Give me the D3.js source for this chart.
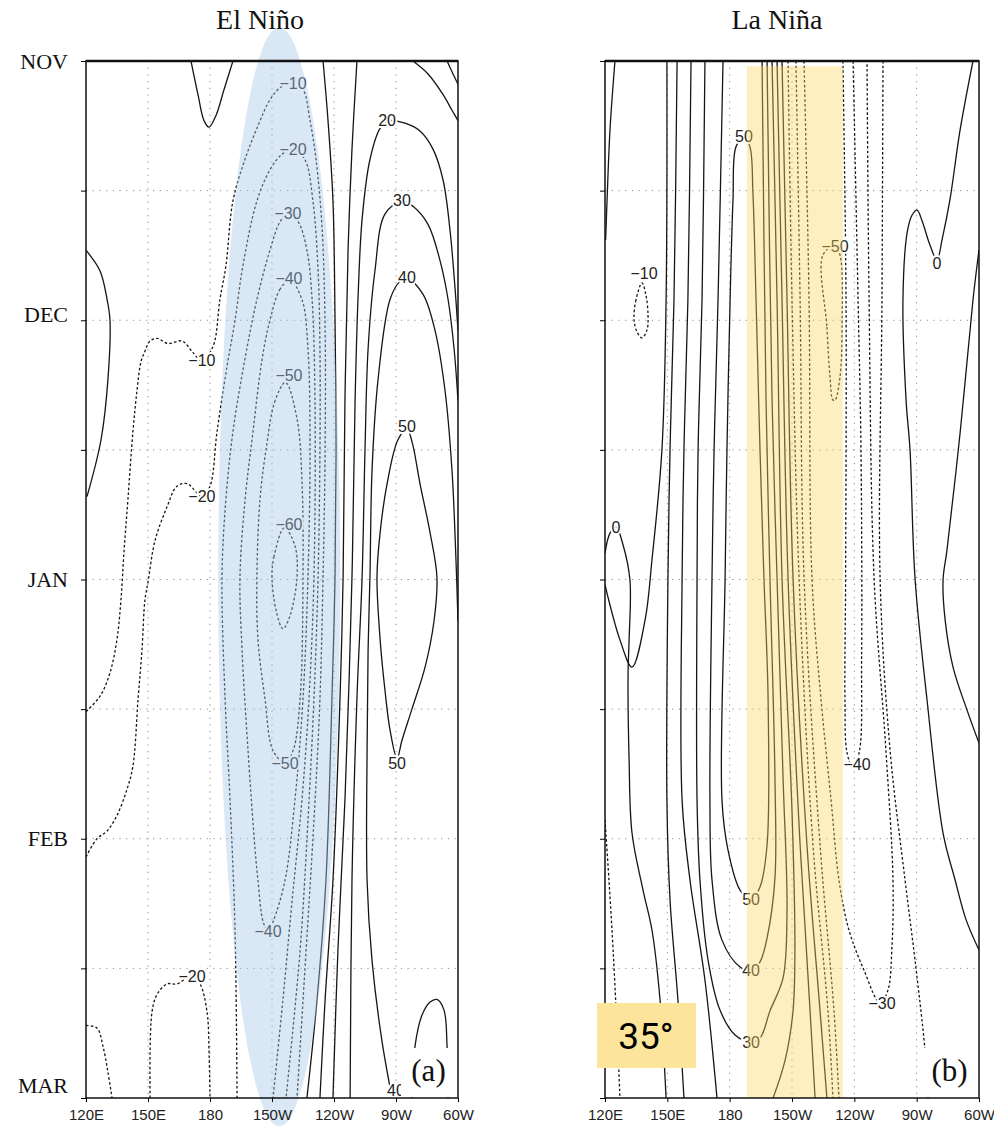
<!DOCTYPE html>
<html>
<head>
<meta charset="utf-8">
<script src="https://cdn.jsdelivr.net/npm/d3@7"></script>
<style>
body { margin: 0; background: #fff; }
</style>
</head>
<body>
<svg id="chart" width="994" height="1126"></svg>
<script>
// axis labels
var months = ["NOV", "DEC", "JAN", "FEB", "MAR"]
var halfMonths = [0, 0.5, 1, 1.5, 2, 2.5, 3, 3.5, 4]
var lonTicks = [120, 150, 180, 210, 240, 270, 300]
var lonNames = ["120E", "150E", "180", "150W", "120W", "90W", "60W"]

// contour lines: [longitude °E, months after 1 Nov]
var elNinoContours = [
  {level: 0, pts: [[170.8,0],[174.2,0.13],[177.1,0.23],[179.5,0.255],[182.9,0.21],[186.8,0.11],[191.1,0]]},
  {level: 0, pts: [[120,0.73],[126.8,0.81],[130.2,0.92],[131.6,1.0],[130.6,1.23],[127.3,1.46],[120.5,1.68]]},
  {level: -10, pts: [[120,2.51],[126.8,2.45],[131.6,2.36],[135,2.23],[136.9,2.08],[138.4,1.89],[140.3,1.69],[142.7,1.43],[144.7,1.27],[146.6,1.16],[148.5,1.12],[151,1.08],[154.4,1.07],[159.7,1.09],[166.5,1.08],[171.3,1.12],[176.1,1.157],[181.5,1.10],[184.8,0.92],[187.7,0.79],[191.1,0.54],[196.9,0.38],[203.2,0.25],[209,0.15],[214.4,0.10],[220.2,0.085],[225,0.11],[228.4,0.23],[231.3,0.38],[234.2,0.64],[235.7,1.03],[235.7,1.5],[234.7,1.99],[233.2,2.46],[230.3,2.93],[226.5,3.43],[222.1,4.0]]},
  {level: -20, pts: [[120,3.07],[125.3,3.0],[130.2,2.97],[135,2.91],[139.8,2.81],[142.7,2.72],[145.2,2.46],[147.1,2.27],[148.5,2.08],[150,2.01],[153.4,1.85],[159.2,1.72],[164,1.64],[168.9,1.63],[176.1,1.68],[180,1.64],[183.4,1.43],[188.2,1.18],[192.1,1.0],[195.9,0.79],[202.7,0.54],[209,0.42],[214.8,0.36],[220.2,0.34],[225.9,0.38],[229.8,0.54],[232.3,0.81],[233.2,1.11],[233.2,1.5],[232.3,1.99],[230.3,2.46],[227.4,2.93],[223.6,3.43],[216.8,4.0]]},
  {level: -30, pts: [[193.1,4.0],[192.1,3.35],[189.7,2.85],[187.3,2.46],[185.8,1.99],[187.7,1.69],[191.1,1.43],[196.9,1.15],[202.7,0.92],[209,0.73],[213.9,0.62],[217.7,0.59],[222.6,0.62],[226.9,0.73],[229.4,0.92],[230.8,1.31],[230.3,1.99],[227.9,2.46],[224.5,2.85],[219.7,3.24],[215.3,3.62],[210.5,4.0]]},
  {level: -40, closed: true, pts: [[218.7,0.845],[213.9,0.88],[209,1.0],[205.2,1.15],[200.8,1.43],[197,1.69],[194.5,1.99],[195.5,2.27],[198.4,2.66],[201.8,3.04],[203.2,3.16],[205.7,3.32],[208.1,3.356],[210.5,3.32],[216.3,3.16],[221.1,2.85],[225,2.46],[227.4,1.99],[228.4,1.5],[227.4,1.11],[224.5,0.92]]},
  {level: -50, closed: true, pts: [[216.5,1.24],[211.5,1.31],[207.1,1.5],[204.2,1.69],[202.7,1.99],[203.2,2.23],[206.6,2.46],[210.5,2.66],[216.3,2.708],[220.2,2.66],[223.6,2.46],[225,1.99],[224.5,1.62],[222.1,1.38]]},
  {level: -60, closed: true, pts: [[216,1.8],[211,1.91],[210,1.99],[212,2.12],[215.3,2.19],[218.7,2.14],[222.1,1.99],[221.1,1.87]]},
  {level: -20, pts: [[151,4.0],[151.9,3.67],[154.4,3.6],[159.2,3.56],[164,3.56],[171.3,3.53],[175.2,3.56],[178.6,3.67],[179.5,3.81],[180,4.0]]},
  {level: -30, pts: [[120,3.72],[125.3,3.73],[128.2,3.8],[130.6,3.9],[132.6,4.0]]},
  {level: 0, pts: [[234.7,0],[237.1,0.23],[239.5,0.54],[240.5,1.0],[241,1.5],[240.5,1.99],[239,2.46],[236.1,3.16],[231.8,3.62],[226.9,4.0]]},
  {level: 10, pts: [[251.1,0],[248.7,0.34],[246.8,0.73],[245.3,1.31],[244.4,1.99],[242.9,2.46],[239.5,3.16],[235.7,3.62],[233.2,4.0]]},
  {level: 20, pts: [[239.5,4.0],[241.9,3.43],[245.3,2.85],[248.7,1.99],[250.2,1.31],[251.6,0.92],[253.6,0.61],[257.4,0.38],[262.3,0.26],[266.5,0.23],[274.4,0.24],[281.6,0.27],[287.9,0.34],[292.8,0.46],[296.1,0.65],[298.6,0.88],[300,1.04]]},
  {level: 30, pts: [[247.8,4.0],[248.7,3.16],[251.1,2.46],[253.6,1.99],[255,1.5],[256.5,1.11],[259.8,0.81],[264.7,0.59],[272.9,0.54],[278.2,0.56],[285.5,0.63],[291.3,0.77],[295.2,0.92],[298.1,1.11],[300,1.31]]},
  {level: 40, pts: [[268.1,4.0],[263.2,3.78],[258.4,3.47],[256,3.16],[256,2.66],[256.5,2.27],[257.4,1.99],[258.4,1.58],[261.3,1.23],[267.1,0.92],[271.9,0.85],[275.3,0.837],[283.1,0.9],[288.9,1.04],[293.7,1.27],[297.1,1.58],[299,1.92],[300,2.16]]},
  {level: 50, closed: true, pts: [[275.3,1.42],[271,1.46],[265.7,1.63],[262.3,1.82],[260.8,1.99],[262.3,2.23],[264.7,2.43],[267.1,2.58],[270.5,2.69],[272.9,2.62],[277.7,2.5],[284,2.34],[288.4,2.16],[289.8,1.99],[286.5,1.82],[281.6,1.63],[277.8,1.47]]},
  {level: 50, pts: [[277.7,4.0],[279.2,3.8],[282.6,3.68],[286.5,3.63],[289.8,3.62],[293.2,3.66],[294.7,3.8],[295.2,4.0]]},
  {level: 10, pts: [[278.2,0],[285.5,0.05],[292.8,0.13],[297.1,0.19],[300,0.23]]},
  {level: 0, pts: [[294.7,0],[297.6,0.05],[300,0.09]]}
]
// [level, longitude, month]
var elNinoLabels = [
  [-10,220.2,0.085],[-20,220.2,0.34],[-30,217.7,0.59],[-40,218.2,0.84],[-50,218.2,1.215],[-60,218.2,1.786],
  [-10,176.1,1.157],[-20,176.1,1.68],[-50,216.3,2.708],[-40,208.1,3.356],[-20,171.3,3.53],
  [20,265.7,0.23],[30,272.9,0.54],[40,275.3,0.837],[50,275.3,1.408],[50,270.5,2.708],[40,270,3.97]
]

var laNinaContours = [
  {level: 0, pts: [[124.8,0],[122.4,0.266],[121,0.536],[120.3,0.69]]},
  {level: -10, closed: true, pts: [[137.8,0.856],[134.9,0.922],[134,0.999],[135.4,1.045],[137.8,1.068],[140.2,1.038],[140.7,0.98],[139.7,0.903]]},
  {level: 0, pts: [[120,1.898],[122.4,1.821],[125.3,1.797],[128.7,1.867],[132,2.002],[131.6,2.233],[131.1,2.361],[131.6,2.696],[133,2.978],[138.3,3.198],[142.6,3.352],[146.5,3.622],[149.4,4.0]]},
  {level: 0, pts: [[149.8,0],[149.4,0.922],[147.4,1.5],[142.6,1.925],[139.3,2.156],[133,2.338],[127.2,2.233],[120,2.021]]},
  {level: 10, pts: [[154.7,0],[153.2,0.922],[151.3,1.5],[150.3,1.994],[149.8,2.851],[151.3,3.236],[155.1,3.622],[158,4.0]]},
  {level: 20, pts: [[161.4,0],[159.9,0.922],[158,1.5],[157.1,1.994],[157.1,2.851],[160.9,3.159],[168.1,3.545],[173.9,4.0]]},
  {level: 30, pts: [[168.1,0],[166.7,0.922],[164.8,1.5],[164.3,1.994],[164.3,2.851],[165.7,3.159],[169.6,3.468],[175.3,3.66],[182.6,3.757],[190.3,3.784],[194.6,3.769],[199.4,3.664],[205.7,3.537],[207.6,3.279],[205.7,2.766],[202.8,1.994],[200.4,1.308],[198,0]]},
  {level: 40, pts: [[176.8,0],[174.4,0.922],[172.5,1.5],[171.5,1.994],[170.5,2.851],[171.5,3.159],[176.3,3.391],[185,3.495],[190.3,3.51],[194.6,3.475],[198,3.383],[201.8,3.151],[201.8,2.766],[199.4,1.994],[197.5,1.308],[195.6,0]]},
  {level: 50, closed: true, pts: [[183,0.332],[181.6,0.536],[180.2,0.922],[178.7,1.5],[177.8,1.994],[176.3,2.851],[179.2,3.044],[185,3.198],[190.3,3.236],[194.6,3.186],[198,3.024],[198.5,2.465],[196.5,1.994],[194.6,1.5],[192.7,0.922],[191.2,0.509],[189.8,0.332],[186.9,0.29]]},
  {level: 20, pts: [[200.4,0],[202.8,0.922],[205.2,1.994],[210,2.893],[211.4,3.41],[210.5,3.664],[206.6,3.857],[200.9,4.0]]},
  {level: 10, pts: [[202.8,0],[205.2,0.922],[208.1,1.994],[213.9,3.024],[218.7,3.664],[221.1,4.0]]},
  {level: 0, pts: [[205.2,0],[207.6,0.922],[210.5,1.994],[217.2,3.024],[223.5,3.664],[226.8,4.0]]},
  {level: -10, pts: [[208.1,0],[210,0.922],[213.4,1.994],[220.1,3.024],[227.3,3.664],[229.7,4.0]]},
  {level: -20, pts: [[211.9,0],[213.9,0.922],[215.8,1.994],[223.5,3.024],[230.2,3.664],[232.6,4.0]]},
  {level: -30, pts: [[215.8,0],[218.2,0.922],[219.6,1.994],[224,2.465],[228.8,2.851],[232.6,3.159],[237.4,3.352],[244.6,3.506],[252.4,3.634],[256.2,3.583],[258.1,3.418],[258.6,3.159],[255.2,2.658],[249.5,1.994],[247.1,0.922],[246.1,0]]},
  {level: -40, pts: [[234.5,0],[236,0.922],[235.8,1.994],[235.5,2.465],[236.5,2.669],[239.5,2.73],[242.5,2.66],[243.5,2.3],[243.2,1.5],[241.8,0.922],[239.4,0]]},
  {level: -50, closed: true, pts: [[224.9,0.748],[226.8,1.026],[228.3,1.219],[229.7,1.308],[230.7,1.308],[233.1,1.219],[234.1,1.026],[233.1,0.748],[230.7,0.714]]},
  {level: -20, pts: [[253.8,0],[253.3,0.922],[252.4,1.994],[257.2,2.658],[264.4,3.159],[269.2,3.468],[274,3.815],[275.5,4.0]]},
  {level: -10, pts: [[120,2.928],[121.9,3.159],[123.9,3.429],[125.8,3.738],[127.2,4.0]]},
  {level: 0, pts: [[297.1,0],[290.9,0.266],[286,0.536],[282.2,0.69],[279.8,0.768],[276.4,0.71],[272.5,0.614],[270.2,0.575],[267.8,0.594],[265.4,0.663],[263.4,0.922],[264.9,1.308],[266.8,1.5],[269.2,1.994],[275,2.465],[282.7,2.978],[288.5,3.159],[293.8,3.313],[300,3.429]]},
  {level: 0, pts: [[300,0.729],[297.1,0.922],[290.9,1.435],[284.6,1.886],[282.7,2.002],[283.7,2.156],[287.5,2.338],[294.2,2.503],[300,2.631]]}
]
var laNinaLabels = [
  [50,186.9,0.29],[-50,230.7,0.714],[-10,138.8,0.82],[0,279.8,0.783],[0,125.3,1.8],
  [-40,241.3,2.712],[50,190.3,3.236],[40,190.3,3.51],[30,190.3,3.784],[-30,253.3,3.634]
]

var svg = d3.select("#chart")

var yScale = d3.scaleLinear()
      .domain([0, 4])
      .range([61, 1098])

var fmt = d => d < 0 ? "\u2212" + Math.abs(d) : String(d)

function drawPanel(p) {
  var xScale = d3.scaleLinear()
        .domain([120, 300])
        .range([p.left, p.right])

  svg.append("clipPath").attr("id", p.id)
     .append("rect")
     .attr("x", p.left).attr("y", yScale(0))
     .attr("width", p.right - p.left).attr("height", yScale(4) - yScale(0))

  var g = svg.append("g")
  var plot = g.append("g").attr("clip-path", `url(#${p.id})`)

  plot.append("g").selectAll("line")
      .data(lonTicks.slice(1, -1))
      .enter().append("line")
      .attr("x1", d => xScale(d)).attr("x2", d => xScale(d))
      .attr("y1", yScale(0)).attr("y2", yScale(4))
      .attr("stroke", "#8c8c8c").attr("stroke-width", 1)
      .attr("stroke-dasharray", "1.2,5.5")

  plot.append("g").selectAll("line")
      .data(halfMonths.slice(1, -1))
      .enter().append("line")
      .attr("x1", p.left).attr("x2", p.right)
      .attr("y1", d => yScale(d)).attr("y2", d => yScale(d))
      .attr("stroke", "#8c8c8c").attr("stroke-width", 1)
      .attr("stroke-dasharray", "1.2,5.5")

  var line = d3.line()
        .x(d => xScale(d[0])).y(d => yScale(d[1]))
        .curve(d3.curveCatmullRom.alpha(0.5))
  var loop = d3.line()
        .x(d => xScale(d[0])).y(d => yScale(d[1]))
        .curve(d3.curveCatmullRomClosed.alpha(0.5))

  plot.append("g").selectAll("path")
      .data(p.contours)
      .enter().append("path")
      .attr("d", d => d.closed ? loop(d.pts) : line(d.pts))
      .attr("fill", "none")
      .attr("stroke", "#151515")
      .attr("stroke-width", 1.3)
      .attr("stroke-dasharray", d => d.level < 0 ? "2.6,2.2" : null)

  plot.append("g").selectAll("text")
      .data(p.labels)
      .enter().append("text")
      .attr("x", d => xScale(d[1]))
      .attr("y", d => yScale(d[2]))
      .attr("text-anchor", "middle")
      .attr("dominant-baseline", "central")
      .attr("font-family", "Liberation Sans, Arial, sans-serif")
      .attr("font-size", 16)
      .attr("fill", "#222")
      .attr("stroke", "#fff").attr("stroke-width", 4)
      .attr("paint-order", "stroke")
      .text(d => fmt(d[0]))

  // white box behind the panel tag
  plot.append("rect")
      .attr("x", p.tagBox[0]).attr("y", p.tagBox[1])
      .attr("width", p.tagBox[2]).attr("height", p.tagBox[3])
      .attr("fill", "#fff")

  g.append("text")
      .attr("x", p.tagBox[0] + p.tagBox[2] / 2)
      .attr("y", 1081)
      .attr("text-anchor", "middle")
      .attr("font-family", "Liberation Serif, Times New Roman, serif")
      .attr("font-size", 31)
      .attr("fill", "#111")
      .text(p.tag)

  p.overlay(g, xScale)

  g.append("rect")
      .attr("x", p.left).attr("y", yScale(0))
      .attr("width", p.right - p.left).attr("height", yScale(4) - yScale(0))
      .attr("fill", "none").attr("stroke", "#111").attr("stroke-width", 1.5)
  g.append("line")
      .attr("x1", p.left).attr("x2", p.right)
      .attr("y1", yScale(0)).attr("y2", yScale(0))
      .attr("stroke", "#111").attr("stroke-width", 2.5)

  var xAxisGen = d3.axisBottom(xScale)
        .tickValues(lonTicks)
        .tickFormat((d, i) => lonNames[i])
        .tickSize(4).tickSizeOuter(0).tickPadding(7)
  var xAxis = g.append("g")
        .attr("transform", `translate(0,${yScale(4)})`)
        .call(xAxisGen)
  xAxis.select(".domain").remove()
  xAxis.selectAll("text")
       .attr("font-family", "Liberation Sans, Arial, sans-serif")
       .attr("font-size", 15).attr("fill", "#222")

  var yAxisGen = d3.axisLeft(yScale)
        .tickValues(halfMonths)
        .tickFormat(d => p.showMonths && Number.isInteger(d) ? months[d] : "")
        .tickSize(5).tickSizeOuter(0).tickPadding(13)
  var yAxis = g.append("g")
        .attr("transform", `translate(${p.left},0)`)
        .call(yAxisGen)
  yAxis.select(".domain").remove()
  yAxis.selectAll("text")
       .attr("font-family", "Liberation Serif, Times New Roman, serif")
       .attr("font-size", 22).attr("fill", "#111")
       .attr("dy", d => d === 4 ? "-0.24em" : d === 1 ? "0.05em" : "0.32em")

  svg.append("text")
     .attr("x", p.titleX).attr("y", 29)
     .attr("text-anchor", "middle")
     .attr("font-family", "Liberation Serif, Times New Roman, serif")
     .attr("font-size", 28).attr("fill", "#111")
     .text(p.title)
}

drawPanel({
  id: "clipA", left: 86, right: 458,
  contours: elNinoContours, labels: elNinoLabels,
  title: "El Niño", titleX: 260, tag: "(a)", showMonths: true,
  tagBox: [401, 1048, 55, 49],
  overlay: function (g, xScale) {
    g.append("ellipse")
     .attr("cx", xScale(213.5)).attr("cy", yScale(1.99))
     .attr("rx", xScale(243) - xScale(213.5))
     .attr("ry", yScale(2.12) - yScale(0))
     .attr("fill", "rgb(168,198,232)").attr("opacity", 0.42)
  }
})

drawPanel({
  id: "clipB", left: 605, right: 979,
  contours: laNinaContours, labels: laNinaLabels,
  title: "La Niña", titleX: 777, tag: "(b)", showMonths: false,
  tagBox: [922, 1048, 55, 49],
  overlay: function (g, xScale) {
    g.append("rect")
     .attr("x", xScale(188.3)).attr("y", yScale(0.02))
     .attr("width", xScale(234.5) - xScale(188.3))
     .attr("height", yScale(4) - yScale(0.02))
     .attr("fill", "rgb(252,214,100)").attr("opacity", 0.4)
  }
})

// angle note
svg.append("rect")
   .attr("x", 597).attr("y", 1003).attr("width", 99).attr("height", 65)
   .attr("fill", "#fde49b")
svg.append("text")
   .attr("x", 646).attr("y", 1036)
   .attr("text-anchor", "middle").attr("dominant-baseline", "central")
   .attr("font-family", "Roboto, Arial, sans-serif")
   .attr("font-size", 37).attr("fill", "#000")
   .text("35°")
</script>
</body>
</html>
